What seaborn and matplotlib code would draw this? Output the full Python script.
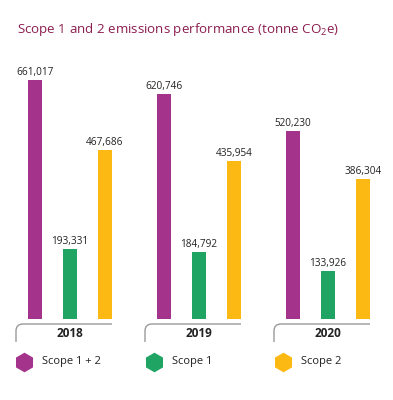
import numpy as np
import pandas as pd
import seaborn as sns
import matplotlib
matplotlib.use('Agg')
import matplotlib.pyplot as plt
from matplotlib.path import Path
from matplotlib.patches import PathPatch
from matplotlib.lines import Line2D
from matplotlib.transforms import Affine2D

years = ['2018', '2019', '2020']
scopes = ['Scope 1 + 2', 'Scope 1', 'Scope 2']
scope12 = [661017, 620746, 520230]
scope1 = [193331, 184792, 133926]
scope2 = [467686, 435954, 386304]
colors = ['#A3338B', '#1FA463', '#FDB913']
title = 'Scope 1 and 2 emissions performance (tonne CO$_\\mathregular{2}$e)'

sns.set_theme(style='white')
plt.rcParams['font.family'] = ['Open Sans', 'DejaVu Sans']
plt.rcParams['mathtext.fontset'] = 'custom'
plt.rcParams['mathtext.rm'] = 'Open Sans'
plt.rcParams['mathtext.default'] = 'regular'

W, H = 393, 400
fig = plt.figure(figsize=(W / 100, H / 100), dpi=100)
fig.patch.set_facecolor('white')
ax = fig.add_axes([0, 80.7 / H, 1, 259.3 / H])

df = pd.DataFrame({
    'year': years * 3,
    'scope': [s for s in scopes for _ in years],
    'value': scope12 + scope1 + scope2,
})
sns.barplot(data=df, x='year', y='value', hue='scope', order=years,
            hue_order=scopes, palette=colors, width=0.814, gap=0.587,
            saturation=1, legend=False, ax=ax, linewidth=0)
ax.set_xlim(-70 / 129, 323 / 129)
ax.set_ylim(0, 259.3 * 2760)
ax.set_axis_off()

for cont in ax.containers:
    vals = [b.get_height() for b in cont]
    ax.bar_label(cont, labels=[f'{v:,.0f}' for v in vals], padding=1.5,
                 fontsize=7.2, color='#222222')

px = Affine2D().scale(1 / W, 1 / H) + fig.transFigure

fig.canvas.draw()
for i, y in enumerate(years):
    cx = ax.transData.transform((i, 0))[0]
    left, right = cx - 54, cx + 42
    top, bot = H - 324, H - 342
    r = 7
    verts = [(left, bot), (left, top - r), (left, top), (left + r, top), (right, top)]
    codes = [Path.MOVETO, Path.LINETO, Path.CURVE3, Path.CURVE3, Path.LINETO]
    fig.add_artist(PathPatch(Path(verts, codes), fill=False, edgecolor='#9a9a9a',
                             lw=1.0, transform=px))
    fig.text(cx, H - 333.5, y, transform=px, ha='center', va='center',
             fontsize=8.5, fontweight='bold', color='#222222')

for i, (s, c) in enumerate(zip(scopes, colors)):
    x = 24 + 129.5 * i
    yy = H - 361.5
    fig.add_artist(Line2D([x], [yy], marker='h', markersize=13, color=c,
                          linestyle='none', transform=px))
    fig.text(x + 18, yy, s, transform=px, va='center', ha='left',
             fontsize=8, color='#222222')

fig.text(17, H - 29, title, transform=px, va='center', ha='left',
         fontsize=9.6, color='#8C1D4F')

fig.savefig('out.png', dpi=100)
